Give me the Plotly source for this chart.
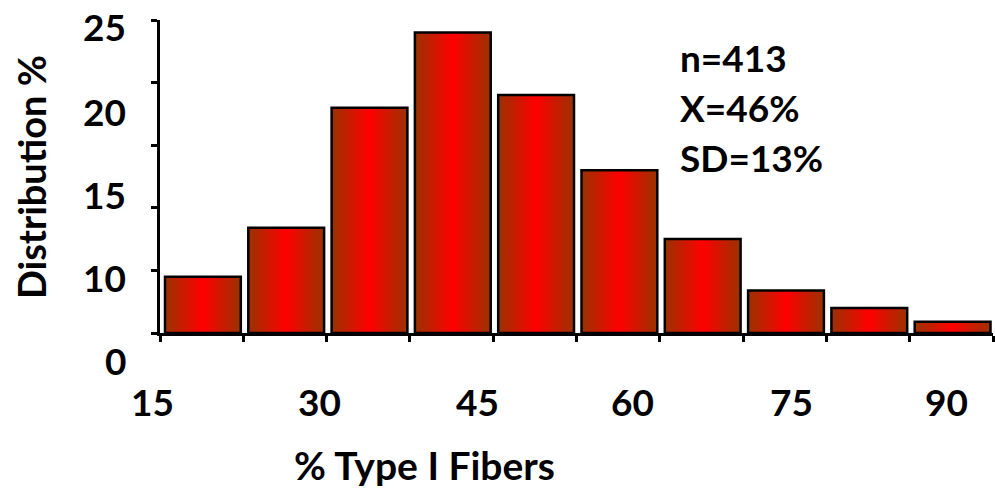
import plotly.graph_objects as go

# ---- data ----
bin_starts = [15, 22.5, 30, 37.5, 45, 52.5, 60, 67.5, 75, 82.5]
bin_width = 7.5
distribution = [4.5, 8.4, 18.0, 24.0, 19.0, 13.0, 7.5, 3.4, 2.0, 0.9]
y_tick_vals = [0, 5, 10, 15, 20, 25]
y_label_texts = ["25", "20", "15", "10", "0"]
x_label_texts = ["15", "30", "45", "60", "75", "90"]
stats_lines = ["n=413", "X=46%", "SD=13%"]

FONT = "Lato"
EDGE = "#993300"
MID = "#ff0000"
FS = 37

fig = go.Figure()

for start, val in zip(bin_starts, distribution):
    x0 = start + 0.06 * bin_width
    x1 = start + 0.97 * bin_width
    fig.add_trace(go.Scatter(
        x=[x0, x0, x1, x1, x0],
        y=[0, val, val, 0, 0],
        mode="lines",
        fill="toself",
        fillgradient=dict(type="horizontal", start=x0, stop=x1,
                          colorscale=[[0, EDGE], [0.5, MID], [1, EDGE]]),
        line=dict(color="black", width=2.5),
        hoverinfo="skip",
        showlegend=False,
    ))

x_min = bin_starts[0]
x_max = bin_starts[-1] + bin_width
x_ticks = [s for s in bin_starts] + [x_max]

fig.update_xaxes(
    range=[x_min, x_max], tickvals=x_ticks, showticklabels=False,
    showline=True, linecolor="black", linewidth=3,
    ticks="outside", ticklen=6, tickwidth=3, tickcolor="black",
    showgrid=False, zeroline=False, fixedrange=True,
)
fig.update_yaxes(
    range=[0, 25], tickvals=y_tick_vals, showticklabels=False,
    showline=True, linecolor="black", linewidth=3,
    ticks="outside", ticklen=6, tickwidth=3, tickcolor="black",
    showgrid=False, zeroline=False, fixedrange=True,
)

font = dict(family=FONT, size=FS, color="black", weight="bold")
annotations = []
# y-axis labels (drawn offset from ticks, as in the original) - paper coords
y_label_pos = [0.978, 0.709, 0.441, 0.176, -0.089]
for t, yp in zip(y_label_texts, y_label_pos):
    annotations.append(dict(text=t, xref="paper", yref="paper", x=-0.0384, y=yp,
                            xanchor="right", yanchor="middle", showarrow=False, font=font))
# x-axis labels - paper coords
x_label_pos = [-0.0096, 0.1909, 0.3806, 0.5678, 0.7587, 0.9436]
for t, xp in zip(x_label_texts, x_label_pos):
    annotations.append(dict(text=t, xref="paper", yref="paper", x=xp, y=-0.2204,
                            xanchor="center", yanchor="middle", showarrow=False, font=font))
# axis titles
annotations.append(dict(text="Distribution %", xref="paper", yref="paper",
                        x=-0.1549, y=0.498, textangle=-90, xanchor="center", yanchor="middle",
                        showarrow=False, font=dict(font, size=38)))
annotations.append(dict(text="% Type I Fibers", xref="paper", yref="paper",
                        x=0.318, y=-0.4217, xanchor="center", yanchor="middle",
                        showarrow=False, font=dict(font, size=39)))
# stats text
for t, yp in zip(stats_lines, [0.879, 0.719, 0.562]):
    annotations.append(dict(text=t, xref="paper", yref="paper", x=0.622, y=yp,
                            xanchor="left", yanchor="middle", showarrow=False, font=font))

fig.update_layout(
    width=995, height=491,
    margin=dict(l=160, r=2, t=20, b=158),
    paper_bgcolor="white", plot_bgcolor="white",
    annotations=annotations,
    showlegend=False,
)

fig.write_html("out.html", config={"displayModeBar": False})
